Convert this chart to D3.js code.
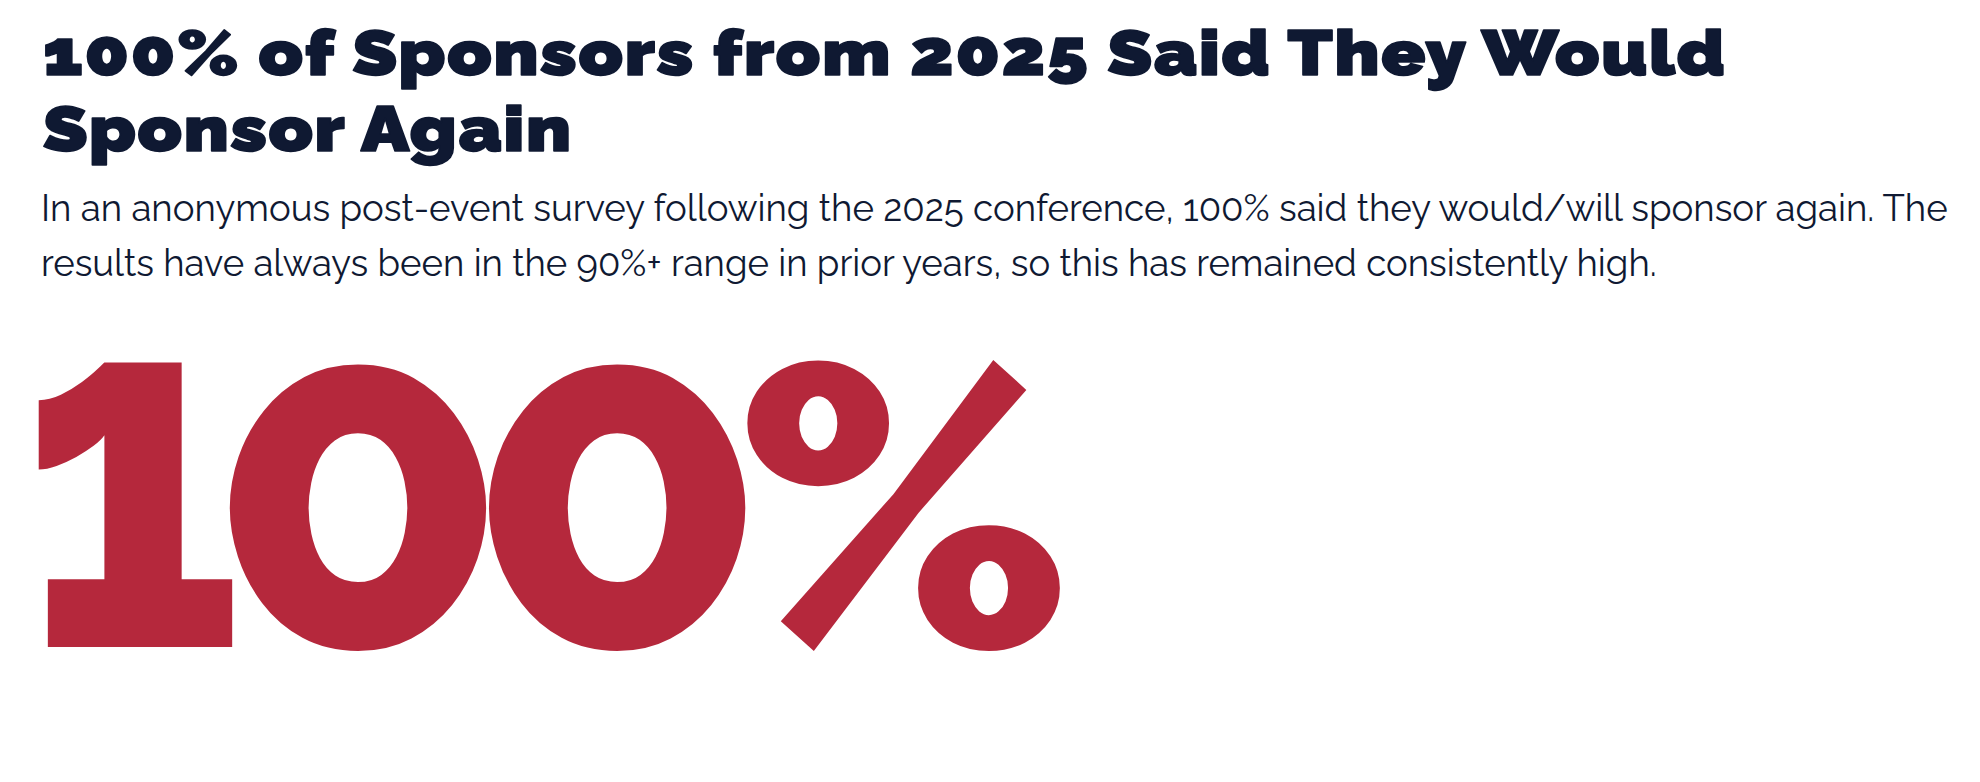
<!DOCTYPE html>
<html>
<head>
<meta charset="utf-8">
<script src="https://cdn.jsdelivr.net/npm/d3@7"></script>
<style>
  html, body { margin: 0; padding: 0; background: #ffffff; }
  svg { display: block; }
  .stat { font-variant-numeric: lining-nums; font-feature-settings: "lnum" 1; }
</style>
</head>
<body>
<div id="chart"></div>
<script>
// ---- data ----
const titleLines = ["100% of Sponsors from 2025 Said They Would", "Sponsor Again"];
const subtitleLines = [
  "In an anonymous post-event survey following the 2025 conference, 100% said they would/will sponsor again. The",
  "results have always been in the 90%+ range in prior years, so this has remained consistently high."
];
const statValues = [100];
const statSuffix = ["%"];

// ---- layout ----
const W = 1980, H = 782;
const navy = "#0f1932", red = "#b5283c";
const fontStack = "Raleway, Lato, 'Open Sans', 'Noto Sans', sans-serif";

const svg = d3.select("#chart").append("svg")
  .attr("width", W).attr("height", H).attr("viewBox", `0 0 ${W} ${H}`);

function fit(sel, targets, maxAdj) {
  sel.each(function(d, i) {
    const t = targets[i];
    if (!t) return;
    const w = this.getComputedTextLength();
    const fs = parseFloat(d3.select(this).attr("font-size"));
    let r = t / w;
    r = Math.max(1 - maxAdj, Math.min(1 + maxAdj, r));
    d3.select(this).attr("font-size", fs * r);
    const w2 = this.getComputedTextLength();
    if (Math.abs(w2 - t) > 2) {
      d3.select(this).attr("textLength", t).attr("lengthAdjust", "spacing");
    }
  });
}

// Title: widen glyphs horizontally so the line fills the same width as the reference
const titleY = d3.scaleLinear().domain([0, 1]).range([75, 151]);
const titleTargets = [1682, 528];
const title = svg.append("g").selectAll("text").data(titleLines).join("text")
  .attr("x", 0).attr("y", 0)
  .attr("font-family", fontStack).attr("font-weight", 900)
  .attr("font-size", 63).attr("fill", navy)
  .attr("stroke", navy).attr("stroke-width", 1.6).attr("stroke-linejoin", "round")
  .text(d => d);
title.each(function(d, i) {
  const w = this.getComputedTextLength();
  const s = Math.max(0.9, Math.min(1.15, titleTargets[i] / w));
  d3.select(this).attr("transform", `translate(43,${titleY(i)}) scale(${s},1)`);
  if (Math.abs(w * s - titleTargets[i]) > 3) {
    d3.select(this).attr("textLength", titleTargets[i] / s).attr("lengthAdjust", "spacing");
  }
});

// Subtitle
const subY = d3.scaleLinear().domain([0, 1]).range([221, 276]);
const sub = svg.append("g").selectAll("text").data(subtitleLines).join("text")
  .attr("x", 41).attr("y", (d, i) => subY(i))
  .attr("font-family", fontStack).attr("font-weight", 400)
  .attr("font-size", 34).attr("fill", navy)
  .text(d => d);
fit(sub, [1907, 1616], 0.1);

// Big stat
svg.append("g").selectAll("text").data(statValues).join("text")
  .attr("class", "stat")
  .attr("x", 22).attr("y", 647)
  .attr("font-family", fontStack).attr("font-weight", 900)
  .attr("font-size", 398).attr("letter-spacing", -25).attr("fill", red)
  .text((d, i) => d3.format("d")(d) + statSuffix[i]);
</script>
</body>
</html>
